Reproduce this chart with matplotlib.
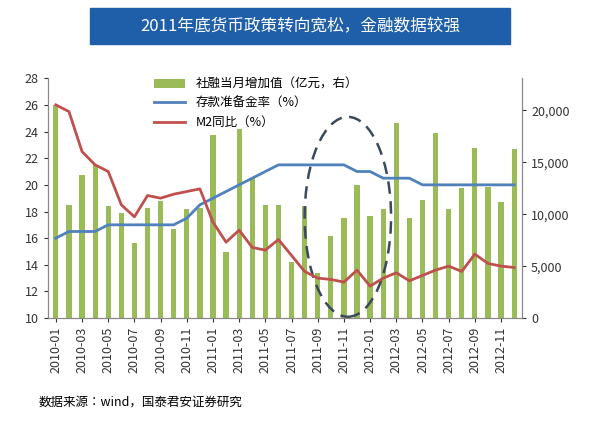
import matplotlib.pyplot as plt
import numpy as np
from matplotlib import font_manager
from matplotlib.patches import Ellipse, FancyBboxPatch

cjk = [f.name for f in font_manager.fontManager.ttflist if "CJK" in f.name]
plt.rcParams["font.family"] = (sorted(set(cjk)) or ["Noto Sans CJK SC"])[:1] + ["DejaVu Sans"]

months = [f"{y}-{m:02d}" for y in (2010, 2011, 2012) for m in range(1, 13)]
tsf = [20500, 10900, 13800, 14700, 10800, 10100, 7200, 10600, 11300, 8600, 10500, 10600,
       17600, 6400, 18200, 13500, 10900, 10900, 5400, 10800, 4300, 7900, 9600, 12800,
       9800, 10500, 18800, 9600, 11400, 17800, 10500, 12500, 16400, 12600, 11200, 16300]
rrr = [16, 16.5, 16.5, 16.5, 17, 17, 17, 17, 17, 17, 17.5, 18.5,
       19, 19.5, 20, 20.5, 21, 21.5, 21.5, 21.5, 21.5, 21.5, 21.5, 21,
       21, 20.5, 20.5, 20.5, 20, 20, 20, 20, 20, 20, 20, 20]
m2 = [26.0, 25.5, 22.5, 21.5, 21.0, 18.5, 17.6, 19.2, 19.0, 19.3, 19.5, 19.7,
      17.2, 15.7, 16.6, 15.3, 15.1, 15.9, 14.7, 13.5, 13.0, 12.9, 12.7, 13.6,
      12.4, 13.0, 13.4, 12.8, 13.2, 13.6, 13.9, 13.5, 14.8, 14.1, 13.9, 13.8]

x = np.arange(len(months))

fig = plt.figure(figsize=(6, 4.23), dpi=100)
ax = fig.add_axes([0.08, 0.248, 0.79, 0.567])
ax2 = ax.twinx()
ax.set_zorder(ax2.get_zorder() + 1)
ax.patch.set_visible(False)

bars = ax2.bar(x, tsf, width=0.4, color="#9bbb59", label="社融当月增加值（亿元，右）")
ax2.set_ylim(0, 23100)
ax2.set_yticks(range(0, 20001, 5000))
ax2.set_yticklabels([f"{v:,}" for v in range(0, 20001, 5000)])

l1, = ax.plot(x, rrr, color="#4f81bd", lw=2, label="存款准备金率（%）")
l2, = ax.plot(x, m2, color="#c0504d", lw=2, label="M2同比（%）")
ax.set_ylim(10, 28)
ax.set_yticks(range(10, 29, 2))
ax.set_xlim(-0.6, len(months) - 0.4)
ax.set_xticks(x[::2])
ax.set_xticklabels(months[::2], rotation=90)

ax.add_patch(Ellipse((22.3, 17.6), 6.6, 15.0, fill=False, ls=(0, (5, 3)),
                     lw=1.8, color="#3a4a5a"))

for a in (ax, ax2):
    a.tick_params(labelsize=9, colors="#333333", length=3)
    a.spines["top"].set_visible(False)
    for s in ("left", "right", "bottom"):
        a.spines[s].set_color("#888888")

ax.legend([bars, l1, l2], [bars.get_label(), l1.get_label(), l2.get_label()],
          loc="upper left", bbox_to_anchor=(0.2, 1.05), frameon=False, fontsize=9,
          handlelength=2.5, labelspacing=0.5)

fig.patches.append(FancyBboxPatch((0.15, 0.895), 0.70, 0.085, boxstyle="square,pad=0",
                                  transform=fig.transFigure, color="#1f5ea8"))
fig.text(0.5, 0.937, "2011年底货币政策转向宽松，金融数据较强", color="white",
         ha="center", va="center", fontsize=12)
fig.text(0.065, 0.04, "数据来源：wind，国泰君安证券研究", fontsize=9)

fig.savefig("out.png", dpi=100)
